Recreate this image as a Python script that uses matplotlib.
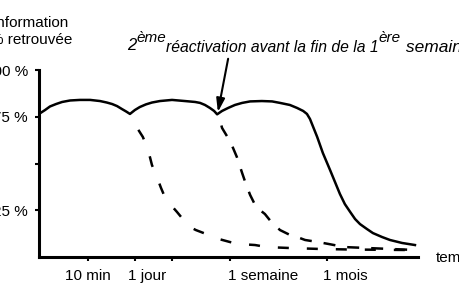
import matplotlib
matplotlib.use("Agg")
import matplotlib.pyplot as plt

plt.rcParams['font.family'] = ['Liberation Sans', 'DejaVu Sans']

# ---- data (arbitrary time units 0-100, % information retrouvée) ----
solid_x = [0, 1.6, 2.9, 4.5, 6.1, 8.2, 10.8, 13.5, 16.1, 17.9,
           19.3, 20.6, 21.9, 23.0, 24.0, 25.3, 26.6, 28.2, 29.8, 31.9,
           35.1, 38.5, 41.2, 42.5, 43.8, 45.1, 46.2, 47.0, 48.3, 49.9,
           51.7, 53.6, 55.7, 58.8, 61.5, 63.6, 66.2, 68.1, 69.7, 70.7,
           71.5, 73.4, 74.9, 76.8, 78.1, 79.4, 80.7, 82.1, 83.4, 84.7,
           86.5, 88.1, 90.5, 92.6, 95.8, 99.2]
solid_y = [76.5, 78.6, 80.5, 81.8, 82.9, 83.7, 84.0, 84.0, 83.4, 82.6,
           81.8, 80.7, 79.1, 77.8, 76.5, 78.6, 80.2, 81.6, 82.6, 83.4,
           84.0, 83.4, 82.9, 82.4, 81.3, 79.7, 78.1, 76.3, 78.1, 79.7,
           81.3, 82.4, 83.2, 83.4, 83.2, 82.4, 81.3, 79.7, 78.1, 76.5,
           73.8, 64.2, 55.6, 46.5, 40.1, 33.7, 28.3, 24.1, 20.3, 17.6,
           15.0, 12.8, 10.7, 9.1, 7.5, 6.4]

dash1_x = [24.0, 25.1, 25.9, 27.4, 28.8, 29.8, 31.1, 32.2, 33.2, 34.8, 36.4, 37.7, 39.3,
           41.4, 44.1, 46.4, 50.4, 52.5, 57.0, 60.2, 66.2, 74.1, 82.1, 99.7]
dash1_y = [76.5, 72.7, 69.0, 64.2, 57.2, 49.2, 42.8, 36.9, 32.1, 27.8, 24.1, 20.9, 16.6,
           14.4, 12.3, 10.2, 8.0, 7.0, 6.4, 5.3, 4.8, 4.3, 4.0, 3.7]

dash2_x = [47.0, 47.8, 48.3, 49.9, 51.2, 52.2, 53.6, 54.6, 55.7, 57.3, 59.6, 61.5, 63.6,
           66.2, 68.1, 70.2, 73.6, 76.3, 80.7, 99.7]
dash2_y = [76.3, 72.7, 69.0, 63.6, 58.3, 53.5, 44.9, 39.0, 33.2, 26.7, 23.0, 18.2, 14.4,
           11.8, 10.7, 9.1, 8.0, 7.0, 5.3, 3.7]

x_ticks = [12.9, 25.3, 35.1, 50.4, 76.0]
x_label_text = ["10 min", "1 jour", "1 semaine", "1 mois"]
x_label_pos = [12.9, 23.5, 49.9, 74.9]
x_label_ha = ["center", "left", "left", "left"]

y_ticks = [25, 50, 75, 100]
y_tick_labels = ["25 %", "", "75 %", "100 %"]

arrow_tip = (47.2, 77.5)
arrow_tail = (49.9, 106.0)

W, H = 460, 300
fig = plt.figure(figsize=(W / 100, H / 100), dpi=100)
ax = fig.add_axes([39 / W, 1 - 257 / H, 379 / W, 187 / H])
ax.set_xlim(0, 100)
ax.set_ylim(0, 100)

for s in ['top', 'right']:
    ax.spines[s].set_visible(False)
for s in ['left', 'bottom']:
    ax.spines[s].set_linewidth(2.2)

ax.plot(solid_x, solid_y, color='black', lw=1.8, solid_joinstyle='round')
ax.plot(dash1_x, dash1_y, color='black', lw=1.8, linestyle=(4.4, (4.4, 7.2)),
        dash_capstyle='butt')
ax.plot(dash2_x, dash2_y, color='black', lw=1.8, linestyle=(4.8, (4.8, 4.8)),
        dash_capstyle='butt')

ax.set_xticks(x_ticks)
ax.set_xticklabels([])
ax.set_yticks(y_ticks)
ax.set_yticklabels(y_tick_labels, fontsize=11)
ax.tick_params(axis='both', direction='out', length=3, width=1.5)
ax.tick_params(axis='y', pad=5)

trans = ax.get_xaxis_transform()
for t, xp, ha in zip(x_label_text, x_label_pos, x_label_ha):
    ax.text(xp, -23 / 187, t, transform=trans, ha=ha, va='baseline', fontsize=11)

fig.text(436 / W, 1 - 262 / H, "temps", ha='left', va='baseline', fontsize=11)

fig.text(31 / W, 1 - 44 / H, "Information\n% retrouvée", ha='center', va='baseline',
         fontsize=11, multialignment='center', linespacing=1.25)

ax.annotate("", xy=arrow_tip, xytext=arrow_tail, annotation_clip=False,
            arrowprops=dict(arrowstyle='-|>,head_length=0.8,head_width=0.25',
                            color='black', lw=1.5, shrinkA=0, shrinkB=0,
                            mutation_scale=10))

pieces = [("2", 12, 50), ("ème", 11, 42), ("réactivation avant la fin de la 1", 11.3, 52),
          ("ère", 11, 42), (" semaine", 12.5, 52)]
renderer = fig.canvas.get_renderer()
xpos = 127
for txt, size, base in pieces:
    t = fig.text(xpos / W, 1 - base / H, txt, ha='left', va='baseline', fontsize=size,
                 style='italic')
    bb = t.get_window_extent(renderer)
    xpos = bb.x1

fig.savefig("out.png", dpi=100)
